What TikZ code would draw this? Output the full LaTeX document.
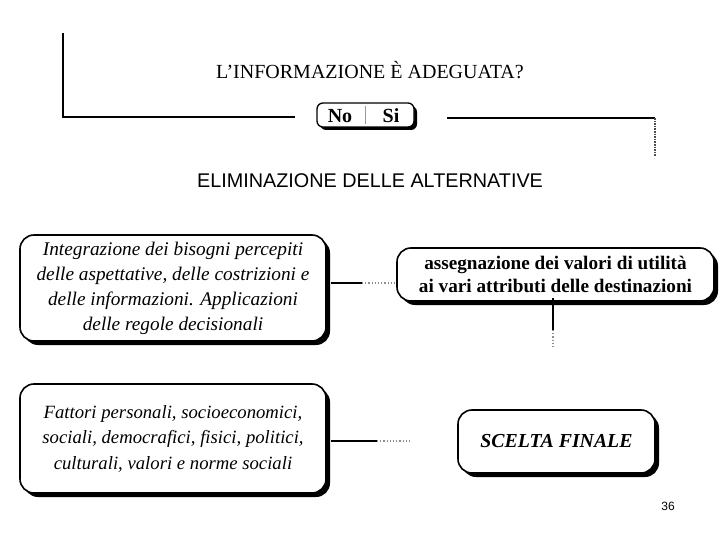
\documentclass[tikz,border=0pt]{standalone}
\usepackage{fontspec}
\setmainfont{Liberation Serif}
\newfontfamily\sansf{Liberation Sans}
\begin{document}
\begin{tikzpicture}[x=1pt,y=-1pt,
  shadowbox/.style={draw=black, line width=1.6pt, fill=white, rounded corners=14pt,
    align=center, inner sep=0pt,
    preaction={fill=black, rounded corners=14pt, transform canvas={xshift=4pt,yshift=-4pt}}},
  smallbox/.style={draw=black, line width=1.3pt, fill=white, rounded corners=6pt,
    inner sep=0pt,
    preaction={fill=black, rounded corners=6pt, transform canvas={xshift=3pt,yshift=-3pt}}},
  heavy/.style={line width=2.4pt, black},
  faint/.style={line width=1.2pt, black!45, dotted},
  titletext/.style={font=\fontsize{20}{24}\selectfont, inner sep=0pt}
]
\useasboundingbox (0,0) rectangle (720,540);

% title and No/Si
\node[titletext] (q) at (370,70) {L'INFORMAZIONE È ADEGUATA?};
\node[smallbox, minimum width=97pt, minimum height=24pt] (ns) at (365.5,115) {};
\node[font=\fontsize{20}{22}\selectfont\bfseries, inner sep=0pt] (no) at (340,116) {No};
\node[font=\fontsize{20}{22}\selectfont\bfseries, inner sep=0pt] (si) at (391,116) {Si};
\draw[black!40, line width=0.6pt] ([yshift=-4pt]ns.north) -- ([yshift=4pt]ns.south);

\coordinate (tl) at (63,33);
\coordinate (lend) at (295,117);
\coordinate (rstart) at (447,118);
\coordinate (tr) at (655,156);
\draw[heavy] (tl) |- (lend);
\draw[heavy] (rstart) -- (655,118);
\draw[line width=1.6pt, black!70, densely dotted] (655,118) -- (tr);

\node[font=\sansf\fontsize{19.8}{22}\selectfont, inner sep=0pt] (elim) at (370,181) {ELIMINAZIONE DELLE ALTERNATIVE};

% boxes
\node[shadowbox, minimum width=306pt, minimum height=106pt,
  font=\fontsize{19.3}{25}\selectfont\itshape] (b1) at (173,288)
  {Integrazione dei bisogni percepiti\\delle aspettative, delle costrizioni e\\delle informazioni. Applicazioni\\delle regole decisionali};

\node[shadowbox, minimum width=317pt, minimum height=53pt,
  font=\fontsize{19.2}{22.5}\selectfont\bfseries] (b2) at (555.5,274.5)
  {assegnazione dei valori di utilità\\ai vari attributi delle destinazioni};

\node[shadowbox, minimum width=306pt, minimum height=109pt,
  font=\fontsize{18.7}{25.5}\selectfont\itshape] (b3) at (173,438.5)
  {Fattori personali, socioeconomici,\\sociali, democrafici, fisici, politici,\\culturali, valori e norme sociali};

\node[shadowbox, minimum width=197pt, minimum height=63pt,
  font=\fontsize{19.8}{22}\selectfont\bfseries\itshape] (b4) at (556.5,441.5)
  {SCELTA FINALE};

% connectors
\coordinate (c12) at (362,283);
\draw[heavy] ([xshift=4pt]b1.east |- c12) -- (c12);
\draw[faint] (c12) -- (b2.west |- c12);

\coordinate (v1) at (553,330);
\coordinate (v2) at (553,348);
\draw[heavy] ([yshift=4pt]b2.south -| v1) -- (v1);
\draw[faint] (v1) -- (v2);

\coordinate (c34) at (377,441);
\coordinate (c34e) at (412,441);
\draw[heavy] ([xshift=4pt]b3.east |- c34) -- (c34);
\draw[faint] (c34) -- (c34e);

\node[font=\sansf\fontsize{12}{14}\selectfont, inner sep=0pt] (pg) at (668,506) {36};
\end{tikzpicture}
\end{document}
